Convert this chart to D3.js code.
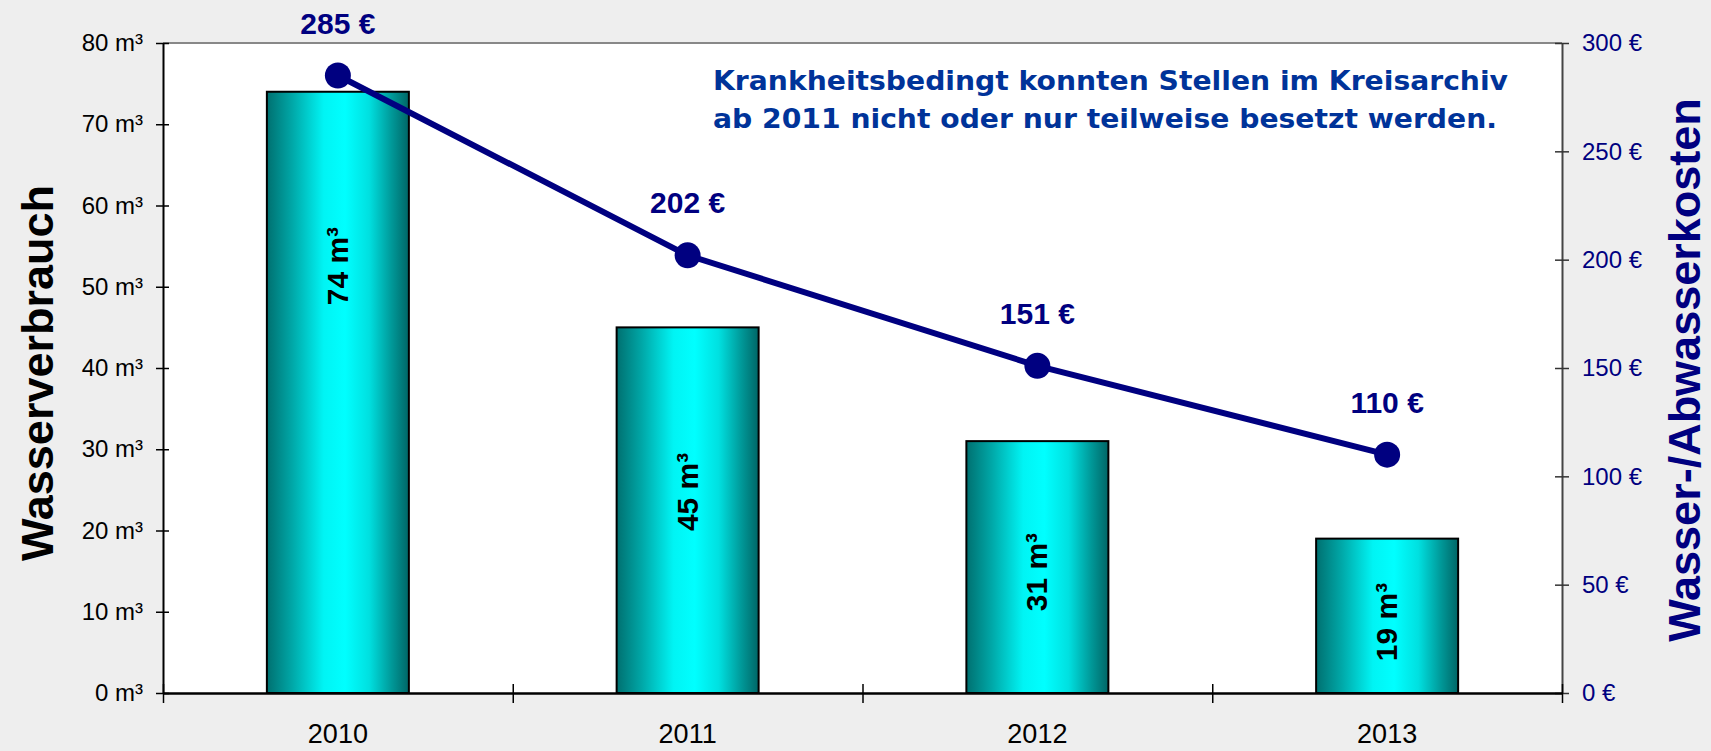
<!DOCTYPE html>
<html>
<head>
<meta charset="utf-8">
<script src="https://cdn.jsdelivr.net/npm/d3@7"></script>
<style>
    body { margin: 0; background: #eeeeee; }
    svg { display: block; }
    text { font-family: "Liberation Sans", Arial, sans-serif; }
</style>
</head>
<body>
<svg id="chart"></svg>
<script>
// data
const years = ['2010', '2011', '2012', '2013']
const waterUse = [74, 45, 31, 19]          // m³, bars
const waterCost = [285, 202, 151, 110]     // €, line
const useTicks = [0, 10, 20, 30, 40, 50, 60, 70, 80]
const costTicks = [0, 50, 100, 150, 200, 250, 300]
const noteLines = [
    'Krankheitsbedingt konnten Stellen im Kreisarchiv',
    'ab 2011 nicht oder nur teilweise besetzt werden.'
]

const config = {
    containerWidth: 1711,
    containerHeight: 751,
    margin: { top: 43, right: 149, bottom: 58, left: 163 }
}
const navy = '#000080'

let width = config.containerWidth - config.margin.left - config.margin.right
let height = config.containerHeight - config.margin.top - config.margin.bottom

const svg = d3.select('#chart')
    .attr('width', config.containerWidth)
    .attr('height', config.containerHeight)

// bar gradient (dark teal -> cyan -> dark teal)
const grad = svg.append('defs').append('linearGradient')
    .attr('id', 'barGrad')
    .attr('x1', 0).attr('x2', 1).attr('y1', 0).attr('y2', 0)
grad.selectAll('stop')
    .data([[0, '#007070'], [0.18, '#00a8a8'], [0.4, '#00f4f4'], [0.55, '#00ffff'], [0.72, '#00e0e0'], [0.88, '#009898'], [1, '#006666']])
    .join('stop')
        .attr('offset', d => d[0])
        .attr('stop-color', d => d[1])

const chart = svg.append('g')
    .attr('transform', `translate(${config.margin.left},${config.margin.top})`)

// plot area
chart.append('rect')
    .attr('width', width)
    .attr('height', height)
    .attr('fill', '#ffffff')
chart.append('line')
    .attr('x1', 0).attr('x2', width)
    .attr('y1', 0).attr('y2', 0)
    .attr('stroke', '#888888')
    .attr('stroke-width', 2)

// scales
const xScale = d3.scaleBand()
    .domain(years)
    .range([0, width])
    .paddingInner(0.594)
    .paddingOuter(0.297)
const xEdge = d3.scaleLinear()
    .domain([0, years.length])
    .range([0, width])
const yUse = d3.scaleLinear().domain([0, 80]).range([height, 0])
const yCost = d3.scaleLinear().domain([0, 300]).range([height, 0])

// bars
chart.selectAll('rect.bar')
    .data(waterUse)
    .join('rect')
        .attr('class', 'bar')
        .attr('x', (d, i) => xScale(years[i]))
        .attr('y', d => yUse(d))
        .attr('width', xScale.bandwidth())
        .attr('height', d => height - yUse(d))
        .attr('fill', 'url(#barGrad)')
        .attr('stroke', '#000000')
        .attr('stroke-width', 2)

// bar labels, rotated (placed at a share of the bar height like the original)
const labelAt = [0.71, 0.55, 0.48, 0.46]
chart.selectAll('text.barLabel')
    .data(waterUse)
    .join('text')
        .attr('class', 'barLabel')
        .attr('transform', (d, i) => `translate(${xScale(years[i]) + xScale.bandwidth() / 2 + 10},${yUse(d * labelAt[i])}) rotate(-90)`)
        .attr('text-anchor', 'middle')
        .attr('font-size', 30)
        .attr('font-weight', 'bold')
        .attr('fill', '#000000')
        .text(d => `${d} m³`)

// axes
const yAxisG = chart.append('g')
    .call(d3.axisLeft(yUse).tickValues(useTicks).tickSizeInner(7).tickSizeOuter(0).tickPadding(13).tickFormat(d => `${d} m³`))
yAxisG.select('.domain').attr('stroke', '#000000').attr('stroke-width', 2)
yAxisG.selectAll('.tick line').attr('x2', -7).attr('x1', 6).attr('stroke-width', 1.5)
yAxisG.selectAll('.tick text').attr('font-size', 24).attr('font-family', '"Liberation Sans", Arial, sans-serif').attr('fill', '#000000')

const y2AxisG = chart.append('g')
    .attr('transform', `translate(${width},0)`)
    .call(d3.axisRight(yCost).tickValues(costTicks).tickSizeInner(7).tickSizeOuter(0).tickPadding(13).tickFormat(d => `${d} €`))
y2AxisG.select('.domain').attr('stroke', '#444444').attr('stroke-width', 2)
y2AxisG.selectAll('.tick line').attr('x1', -7).attr('stroke', '#333333').attr('stroke-width', 1.5)
y2AxisG.selectAll('.tick text').attr('font-size', 24).attr('font-family', '"Liberation Sans", Arial, sans-serif').attr('fill', navy)

const xTickG = chart.append('g')
    .attr('transform', `translate(0,${height})`)
    .call(d3.axisBottom(xEdge).tickValues(d3.range(years.length + 1)).tickSizeInner(10).tickSizeOuter(0).tickFormat(''))
xTickG.select('.domain').attr('stroke', '#000000').attr('stroke-width', 2.5)
xTickG.selectAll('.tick line').attr('y1', -9).attr('stroke-width', 1.5)

const xAxisG = chart.append('g')
    .attr('transform', `translate(0,${height})`)
    .call(d3.axisBottom(xScale).tickSize(0).tickPadding(31))
xAxisG.select('.domain').remove()
xAxisG.selectAll('.tick text').attr('font-size', 27).attr('font-family', '"Liberation Sans", Arial, sans-serif').attr('fill', '#000000')

// cost line
const line = d3.line()
    .x((d, i) => xScale(years[i]) + xScale.bandwidth() / 2)
    .y(d => yCost(d))
chart.append('path')
    .datum(waterCost)
    .attr('d', line)
    .attr('fill', 'none')
    .attr('stroke', navy)
    .attr('stroke-width', 6)
chart.selectAll('circle')
    .data(waterCost)
    .join('circle')
        .attr('cx', (d, i) => xScale(years[i]) + xScale.bandwidth() / 2)
        .attr('cy', d => yCost(d))
        .attr('r', 13)
        .attr('fill', navy)
chart.selectAll('text.costLabel')
    .data(waterCost)
    .join('text')
        .attr('class', 'costLabel')
        .attr('x', (d, i) => xScale(years[i]) + xScale.bandwidth() / 2)
        .attr('y', d => yCost(d) - 42)
        .attr('text-anchor', 'middle')
        .attr('font-size', 30)
        .attr('font-weight', 'bold')
        .attr('fill', navy)
        .text(d => `${d} €`)

// note
chart.selectAll('text.note')
    .data(noteLines)
    .join('text')
        .attr('class', 'note')
        .attr('x', 550)
        .attr('y', (d, i) => 47 + i * 38)
        .attr('font-size', 26)
        .attr('font-weight', 'bold')
        .attr('fill', '#003399')
        .style('font-family', '"DejaVu Sans Condensed", "DejaVu Sans", sans-serif')
        .attr('textLength', (d, i) => i === 0 ? 795 : 784)
        .attr('lengthAdjust', 'spacingAndGlyphs')
        .text(d => d)

// axis titles
svg.append('text')
    .attr('transform', `translate(53,${config.margin.top + height / 2 + 5}) rotate(-90)`)
    .attr('text-anchor', 'middle')
    .attr('font-size', 45)
    .attr('font-weight', 'bold')
    .attr('fill', '#000000')
    .text('Wasserverbrauch')
svg.append('text')
    .attr('transform', `translate(1700,${config.margin.top + height / 2 + 2}) rotate(-90)`)
    .attr('text-anchor', 'middle')
    .attr('font-size', 45)
    .attr('font-weight', 'bold')
    .attr('fill', navy)
    .text('Wasser-/Abwasserkosten')
</script>
</body>
</html>
